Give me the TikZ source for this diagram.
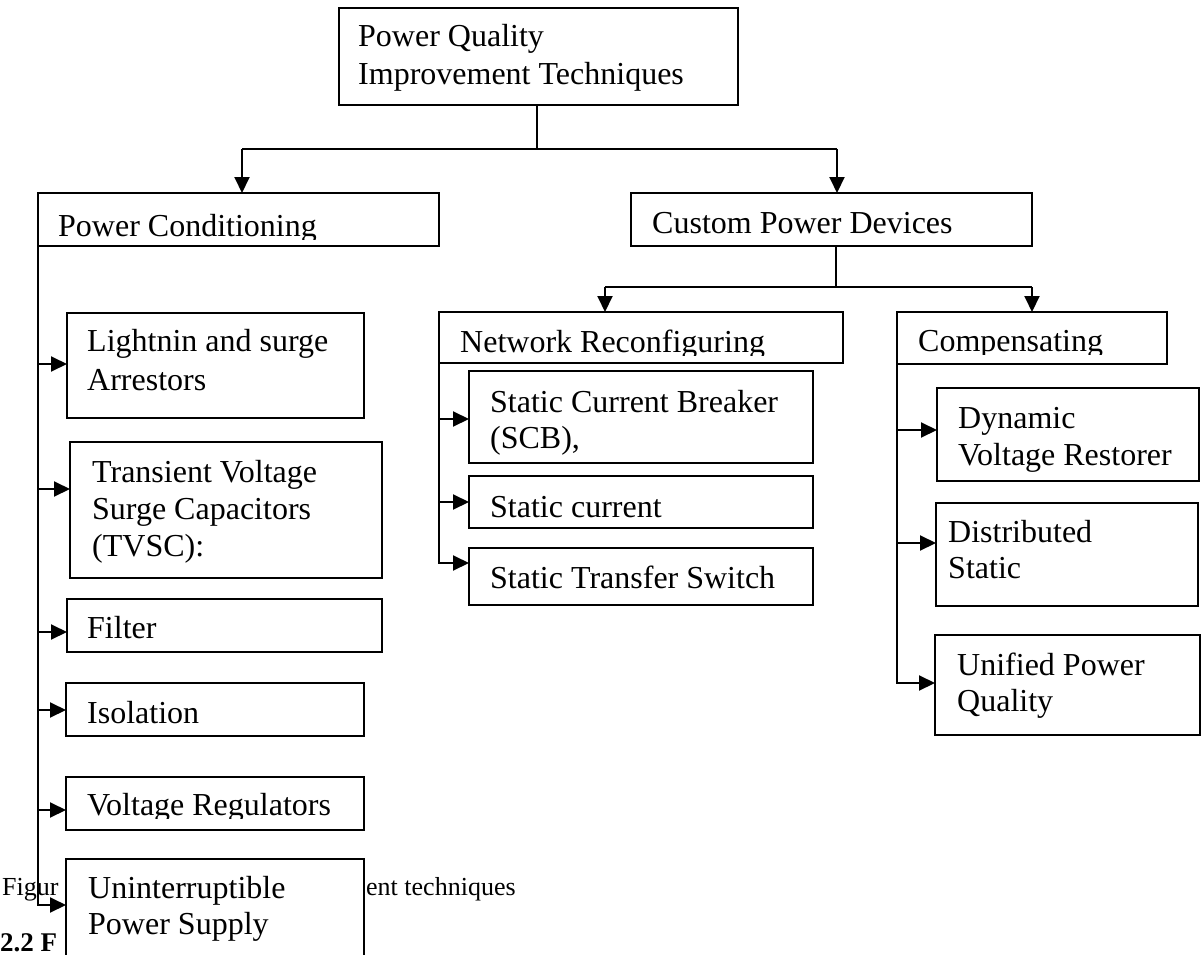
\documentclass[tikz,border=0pt]{standalone}
\usepackage{fontspec}
\setmainfont{Liberation Serif}
\usetikzlibrary{arrows.meta}
\newcommand\pqbox[5]{\node[box, minimum width=#4pt, minimum height=#5pt] (#1) at (#2,#3) {};}
\begin{document}
\begin{tikzpicture}[x=1pt,y=-1pt,
  box/.style={draw, line width=2pt, fill=white, rectangle, anchor=north west, inner sep=0pt, outer sep=0pt},
  txt/.style={anchor=base west, inner sep=0pt, font=\fontsize{32}{37}\selectfont},
  captxt/.style={anchor=base west, inner sep=0pt, font=\fontsize{26}{30}\selectfont},
  conn/.style={line width=2pt},
  arr/.style={conn, -{Triangle[length=16pt,width=15pt]}},
]
\useasboundingbox (0,0) rectangle (1202,955);
% caption fragments (partly hidden behind the figure)
\node[captxt] (cap1) at (2,895) {Figur};
\node[captxt] (cap2) at (366,895) {ent techniques};
\node[captxt, font=\fontsize{27}{30}\selectfont\bfseries] (cap3) at (0,951) {2.2 F};
% boxes
\pqbox{top}{339}{8}{399}{97}
\pqbox{pc}{38}{193}{401}{53}
\pqbox{cp}{631}{193}{401}{53}
\pqbox{la}{67}{313}{297}{105}
\pqbox{tv}{70}{442}{312}{136}
\pqbox{fi}{67}{599}{315}{53}
\pqbox{is}{66}{683}{298}{53}
\pqbox{vr}{66}{777}{298}{53}
\pqbox{ups}{66}{859}{298}{110}
\pqbox{nr}{439}{312}{404}{51}
\pqbox{scb}{469}{371}{344}{92}
\pqbox{sc}{469}{476}{344}{52}
\pqbox{sts}{469}{548}{344}{57}
\pqbox{cm}{897}{312}{270}{52}
\pqbox{dvr}{937}{388}{262}{93}
\pqbox{ds}{936}{503}{262}{103}
\pqbox{upq}{935}{635}{265}{100}
% texts
\node[txt] (topa) at (358,47) {Power Quality};
\node[txt] (topb) at (358,85) {Improvement Techniques};
\begin{scope}
  \clip (38,193) rectangle (439,239);
  \node[txt] (pct) at (58,236) {Power Conditioning};
\end{scope}
\node[txt] (cpt) at (652,233) {Custom Power Devices};
\node[txt] (laa) at (87,351) {Lightnin and surge};
\node[txt] (lab) at (87,390) {Arrestors};
\node[txt] (tva) at (92,482) {Transient Voltage};
\node[txt] (tvb) at (92,519) {Surge Capacitors};
\node[txt] (tvc) at (92,556) {(TVSC):};
\node[txt] (fit) at (87,638) {Filter};
\node[txt] (ist) at (87,723) {Isolation};
\begin{scope}
  \clip (66,777) rectangle (364,818);
  \node[txt] (vrt) at (87,815) {Voltage Regulators};
\end{scope}
\node[txt] (upsa) at (88,898) {Uninterruptible};
\node[txt] (upsb) at (88,934) {Power Supply};
\begin{scope}
  \clip (439,312) rectangle (843,355);
  \node[txt] (nrt) at (460,352) {Network Reconfiguring};
\end{scope}
\node[txt] (scba) at (490,412) {Static Current Breaker};
\node[txt] (scbb) at (490,448) {(SCB),};
\node[txt] (sct) at (490,517) {Static current};
\node[txt] (stst) at (490,588) {Static Transfer Switch};
\begin{scope}
  \clip (897,312) rectangle (1167,354);
  \node[txt] (cmt) at (918,351) {Compensating};
\end{scope}
\node[txt] (dvra) at (958,428) {Dynamic};
\node[txt] (dvrb) at (958,465) {Voltage Restorer};
\node[txt] (dsa) at (948,542) {Distributed};
\node[txt] (dsb) at (948,578) {Static};
\node[txt] (upqa) at (957,675) {Unified Power};
\node[txt] (upqb) at (957,711) {Quality};
% top level connectors
\coordinate (j0) at (537,149);
\coordinate (jl) at (242,149);
\coordinate (jr) at (837,149);
\draw[conn] (j0 |- top.south) -- (j0);
\draw[conn] (jl) -- (jr);
\draw[arr] (jl) -- (jl |- pc.north);
\draw[arr] (jr) -- (jr |- cp.north);
% custom power devices connectors
\coordinate (k0) at (836,287);
\coordinate (kl) at (605,287);
\coordinate (kr) at (1032,287);
\draw[conn] (k0 |- cp.south) -- (k0);
\draw[conn] (kl) -- (kr);
\draw[arr] (kl) -- (kl |- nr.north);
\draw[arr] (kr) -- (kr |- cm.north);
% power conditioning spine
\draw[arr] (pc.south west) |- (ups.west |- 0,905);
\draw[arr] (pc.south west |- 0,364) -- (la.west |- 0,364);
\draw[arr] (pc.south west |- 0,489) -- (tv.west |- 0,489);
\draw[arr] (pc.south west |- 0,632) -- (fi.west |- 0,632);
\draw[arr] (pc.south west |- 0,710) -- (is.west |- 0,710);
\draw[arr] (pc.south west |- 0,810) -- (vr.west |- 0,810);
% network reconfiguring spine
\draw[arr] (nr.south west) |- (sts.west |- 0,563);
\draw[arr] (nr.south west |- 0,419) -- (scb.west |- 0,419);
\draw[arr] (nr.south west |- 0,502) -- (sc.west |- 0,502);
% compensating spine
\draw[arr] (cm.south west) |- (upq.west |- 0,683);
\draw[arr] (cm.south west |- 0,430) -- (dvr.west |- 0,430);
\draw[arr] (cm.south west |- 0,543) -- (ds.west |- 0,543);
\end{tikzpicture}
\end{document}
